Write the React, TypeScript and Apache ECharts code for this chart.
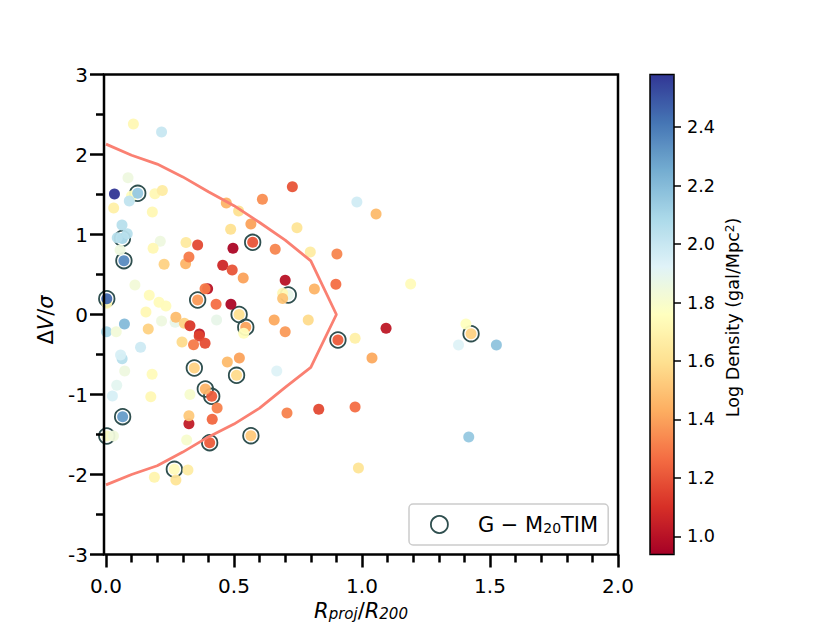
import { useEffect, useRef } from 'react';
import * as echarts from 'echarts';

// [Rproj/R200, dV/sigma, log density]
const GALAXIES: [number, number, number][] = [
  [0.107, 2.38, 1.72], [0.217, 2.28, 2.0], [0.086, 1.71, 1.85], [0.1, 1.48, 1.75],
  [0.124, 1.515, 2.15], [0.033, 1.507, 2.58], [0.091, 1.42, 2.02], [0.191, 1.51, 1.72],
  [0.22, 1.55, 1.66], [0.03, 1.33, 1.68], [0.181, 1.28, 1.72], [0.0625, 1.12, 2.05],
  [0.064, 0.95, 2.1], [0.044, 0.96, 2.05], [0.083, 1.01, 2.05], [0.055, 0.806, 1.85],
  [0.07, 0.673, 2.35], [0.212, 0.915, 1.85], [0.184, 0.827, 1.72], [0.227, 0.627, 1.55],
  [0.3125, 0.9, 1.65], [0.358, 0.869, 1.17], [0.311, 0.635, 1.45], [0.324, 0.719, 1.3],
  [0.113, 0.369, 1.83], [0.169, 0.24, 1.74], [0.207, 0.152, 1.74], [0.234, 0.106, 1.74],
  [0.156, 0.031, 1.72], [0.003, 0.14, 1.72], [0.003, 0.198, 2.45], [0.217, -0.08, 1.85],
  [0.27, -0.098, 1.88], [0.273, -0.035, 1.48], [0.306, -0.11, 1.55], [0.328, -0.14, 1.12],
  [0.397, 0.323, 1.0], [0.387, 0.323, 1.3], [0.358, 0.181, 1.38], [0.43, 0.127, 1.27],
  [0.488, 0.127, 0.96], [0.52, 0, 1.6], [0.432, -0.07, 1.88], [0.546, -0.16, 1.4],
  [0.538, -0.235, 1.75], [0.657, -0.07, 1.42], [0.7, -0.215, 1.38], [0.79, -0.07, 1.58],
  [0.712, 0.244, 1.88], [0.69, 0.265, 1.72], [0.69, 0.2, 1.5], [0.7, 0.427, 1.0],
  [0.814, 0.319, 1.45], [0.898, 0.377, 1.27], [0.902, 0.756, 1.33], [0.798, 0.781, 1.66],
  [0.661, 0.815, 1.33], [0.746, 1.085, 1.62], [0.573, 0.902, 1.2], [0.496, 0.827, 0.96],
  [0.487, 1.065, 1.6], [0.566, 1.131, 1.4], [0.518, 1.294, 1.6], [0.47, 1.394, 1.45],
  [0.611, 1.44, 1.35], [0.728, 1.598, 1.2], [0.98, 1.406, 1.97], [0.456, 0.615, 1.07],
  [0.493, 0.556, 1.2], [0.536, 0.456, 1.4], [1.055, 1.256, 1.47], [1.19, 0.381, 1.74],
  [1.094, -0.173, 1.02], [1.406, -0.119, 1.76], [1.426, -0.24, 1.55], [1.377, -0.381, 1.93],
  [1.525, -0.381, 2.17], [1.039, -0.544, 1.42], [1.417, -1.531, 2.15], [0.973, -0.298, 1.68],
  [0.906, -0.319, 1.22], [0.002, -0.215, 2.1], [0.04, -0.215, 1.83], [0.072, -0.119, 2.2],
  [0.165, -0.181, 1.55], [0.135, -0.41, 1.98], [0.063, -0.552, 2.05], [0.057, -0.506, 1.95],
  [0.073, -0.706, 1.85], [0.18, -0.748, 1.74], [0.042, -0.885, 1.9], [0.025, -1.019, 1.95],
  [0.175, -1.027, 1.72], [0.065, -1.277, 2.3], [0.003, -1.519, 1.78], [0.029, -1.519, 1.84],
  [0.297, -0.344, 1.58], [0.365, -0.244, 1.02], [0.364, -0.269, 1.15], [0.342, -0.377, 1.3],
  [0.387, -0.36, 1.18], [0.474, -0.594, 1.47], [0.521, -0.544, 1.4], [0.345, -0.669, 1.55],
  [0.51, -0.76, 1.58], [0.667, -0.706, 1.93], [0.328, -1.0, 1.8], [0.413, -1.023, 1.22],
  [0.388, -0.931, 1.45], [0.434, -1.169, 1.32], [0.415, -1.31, 1.25], [0.324, -1.365, 1.03],
  [0.324, -1.265, 1.52], [0.315, -1.569, 1.8], [0.405, -1.602, 1.22], [0.566, -1.515, 1.52],
  [0.707, -1.231, 1.32], [0.831, -1.185, 1.17], [0.973, -1.156, 1.27], [0.986, -1.919, 1.62],
  [0.267, -1.935, 1.74], [0.32, -1.944, 1.66], [0.189, -2.035, 1.7], [0.273, -2.069, 1.62],
];

// galaxies selected by G-M20 TIM
const TIM_SELECTED: [number, number][] = [
  [0.124, 1.515], [0.064, 0.95], [0.07, 0.673], [0.003, 0.198], [0.358, 0.181],
  [0.52, 0], [0.546, -0.16], [0.712, 0.244], [0.573, 0.902], [0.906, -0.319],
  [1.426, -0.24], [0.345, -0.669], [0.51, -0.76], [0.388, -0.931], [0.413, -1.023],
  [0.405, -1.602], [0.566, -1.515], [0.065, -1.277], [0.003, -1.519], [0.267, -1.935],
];

const CAUSTIC: [number, number][] = [
  [0, 2.13], [0.1, 1.99], [0.2, 1.88], [0.3, 1.72], [0.4, 1.535], [0.5, 1.36], [0.6, 1.15],
  [0.7, 0.93], [0.8, 0.67], [0.9, 0], [0.8, -0.66], [0.7, -0.91], [0.6, -1.17], [0.5, -1.37],
  [0.4, -1.53], [0.3, -1.72], [0.2, -1.89], [0.1, -2.0], [0, -2.13],
];

const X_MAJOR = [0, 0.5, 1, 1.5, 2];
const X_MINOR = [0.1, 0.2, 0.3, 0.4, 0.6, 0.7, 0.8, 0.9, 1.1, 1.2, 1.3, 1.4, 1.6, 1.7, 1.8, 1.9];
const CBAR_TICKS = [1.0, 1.2, 1.4, 1.6, 1.8, 2.0, 2.2, 2.4];
const RDYLBU = ['#a50026', '#d73027', '#f46d43', '#fdae61', '#fee090', '#ffffbf', '#e0f3f8', '#abd9e9', '#74add1', '#4575b4', '#313695'];
const FONT = 'DejaVu Sans';
const LEGEND_NAME = 'G − M20TIM';

export default function App() {
  const chartRef = useRef<HTMLDivElement>(null);

  useEffect(() => {
    if (!chartRef.current) return;
    const chart = echarts.init(chartRef.current, undefined, { renderer: 'svg' });

    chart.setOption({
      animation: false,
      backgroundColor: '#fff',
      textStyle: { fontFamily: FONT },
      grid: [
        { left: 104, top: 74.5, width: 514, height: 480, show: true, borderColor: '#000', borderWidth: 2.5, z: 5, outerBoundsMode: 'none' },
        { left: 650, top: 74.5, width: 24, height: 480, show: true, borderColor: '#000', borderWidth: 1.5, z: 6, outerBoundsMode: 'none' },
      ],
      xAxis: [
        {
          type: 'value', min: -0.0078, max: 2, position: 'bottom', gridIndex: 0, z: 6,
          splitLine: { show: false },
          axisLine: { show: false, onZero: false },
          axisTick: { customValues: X_MAJOR, length: 13, lineStyle: { color: '#000', width: 2.5 } },
          axisLabel: {
            customValues: X_MAJOR, color: '#000', fontSize: 20, fontFamily: FONT, margin: 21,
            formatter: (v: number) => v.toFixed(1),
          },
          name: '{i|R}{s|proj}{u|/}{i|R}{s|200}',
          nameLocation: 'middle',
          nameGap: 37,
          nameTextStyle: {
            rich: {
              i: { fontFamily: FONT, fontStyle: 'italic', fontSize: 21, color: '#000' },
              u: { fontFamily: FONT, fontSize: 21, color: '#000' },
              s: { fontFamily: FONT, fontStyle: 'italic', fontSize: 15, color: '#000', verticalAlign: 'bottom', padding: [6, 0, 0, 0] },
            },
          },
        },
        {
          type: 'value', min: -0.0078, max: 2, position: 'bottom', gridIndex: 0, z: 6,
          splitLine: { show: false },
          axisLine: { show: false, onZero: false },
          axisLabel: { show: false },
          axisTick: { customValues: X_MINOR, length: 8, lineStyle: { color: '#000', width: 2.5 } },
        },
        { type: 'value', min: 0, max: 1, gridIndex: 1, show: false },
      ],
      yAxis: [
        {
          type: 'value', min: -3, max: 3, interval: 1, gridIndex: 0, z: 6,
          splitLine: { show: false },
          axisLine: { show: false, onZero: false },
          axisTick: { length: 14, lineStyle: { color: '#000', width: 2.5 } },
          minorTick: { show: true, splitNumber: 2, length: 8, lineStyle: { color: '#000', width: 2.5 } },
          axisLabel: { color: '#000', fontSize: 20, fontFamily: FONT, margin: 16 },
          name: '{u|Δ}{i|V}{u|/}{i|σ}',
          nameLocation: 'middle',
          nameRotate: 90,
          nameGap: 48,
          nameTextStyle: {
            padding: [0, 11, 0, 0],
            rich: {
              i: { fontFamily: FONT, fontStyle: 'italic', fontSize: 21, color: '#000' },
              u: { fontFamily: FONT, fontSize: 21, color: '#000' },
            },
          },
        },
        {
          type: 'value', min: 0.938, max: 2.58, gridIndex: 1, position: 'right', z: 7,
          splitLine: { show: false },
          axisLine: { show: false, onZero: false },
          axisTick: { customValues: CBAR_TICKS, length: 7, lineStyle: { color: '#000', width: 1.5 } },
          axisLabel: {
            customValues: CBAR_TICKS, color: '#000', fontSize: 17.6, fontFamily: FONT, margin: 13,
            formatter: (v: number) => v.toFixed(1),
          },
          name: '{u|Log Density (gal/Mpc}{s|2}{u|)}',
          nameLocation: 'middle',
          nameRotate: 90,
          nameGap: 50,
          nameTextStyle: {
            padding: [0, 6, 0, 0],
            rich: {
              u: { fontFamily: FONT, fontSize: 17.6, color: '#000' },
              s: { fontFamily: FONT, fontSize: 12, color: '#000', verticalAlign: 'top', padding: [0, 0, 6, 0] },
            },
          },
        },
      ],
      visualMap: {
        type: 'continuous',
        min: 0.938,
        max: 2.58,
        seriesIndex: [1],
        dimension: 2,
        orient: 'vertical',
        left: 650,
        top: 74.5,
        itemWidth: 24,
        itemHeight: 480,
        padding: 0,
        calculable: false,
        realtime: false,
        hoverLink: false,
        inRange: { color: RDYLBU },
        z: 2,
      },
      legend: {
        left: 409,
        top: 504,
        padding: [10, 10, 10, 21],
        itemWidth: 17,
        itemHeight: 17,
        selectedMode: false,
        backgroundColor: '#fff',
        borderColor: '#ccc',
        borderWidth: 1.5,
        borderRadius: 4,
        data: [{ name: LEGEND_NAME, icon: 'circle', itemStyle: { color: '#fff', borderColor: '#2f4f4f', borderWidth: 1.8 } }],
        formatter: () => '{a|G − M}{s|20}{a|TIM}',
        textStyle: {
          rich: {
            a: { fontFamily: FONT, fontSize: 21, color: '#000' },
            s: { fontFamily: FONT, fontSize: 14, color: '#000', verticalAlign: 'bottom', padding: [6, 0, 0, 0] },
          },
          padding: [0, 0, 0, 25],
        },
      },
      series: [
        {
          name: LEGEND_NAME,
          type: 'scatter',
          data: TIM_SELECTED,
          symbolSize: 15.5,
          z: 2,
          clip: true,
          itemStyle: { color: 'rgba(0,0,0,0)', borderColor: '#2f4f4f', borderWidth: 1.8, opacity: 1 },
        },
        {
          name: 'galaxies',
          type: 'scatter',
          data: GALAXIES,
          symbolSize: 11,
          z: 3,
          clip: true,
          itemStyle: { opacity: 0.95 },
        },
        {
          name: 'caustic',
          type: 'line',
          data: CAUSTIC,
          showSymbol: false,
          symbol: 'none',
          z: 4,
          lineStyle: { color: '#fa8072', width: 2.8 },
        },
      ],
    });

    return () => chart.dispose();
  }, []);

  return <div ref={chartRef} style={{ position: 'absolute', left: 0, top: 0, width: 830, height: 623 }} />;
}
